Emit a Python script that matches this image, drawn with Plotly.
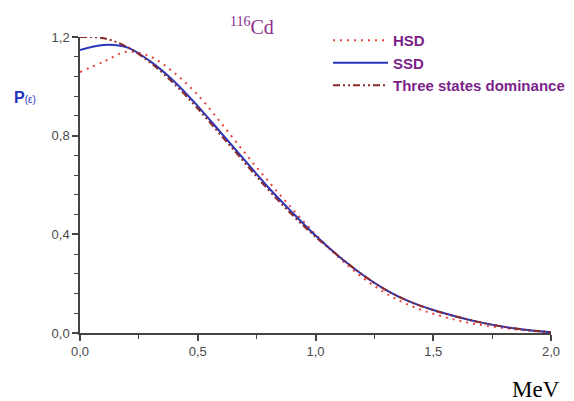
import plotly.graph_objects as go

# Energy grid (MeV)
energy = [0.0, 0.1, 0.2, 0.3, 0.4, 0.5, 0.6, 0.7, 0.8, 0.9, 1.0,
          1.1, 1.2, 1.3, 1.4, 1.5, 1.6, 1.7, 1.8, 1.9, 2.0]

hsd = [1.058, 1.10, 1.14, 1.12, 1.055, 0.965, 0.85, 0.73, 0.615, 0.505, 0.40,
       0.305, 0.225, 0.16, 0.112, 0.078, 0.052, 0.033, 0.02, 0.01, 0.003]
ssd = [1.147, 1.168, 1.158, 1.10, 1.02, 0.92, 0.81, 0.70, 0.59, 0.49, 0.395,
       0.31, 0.236, 0.174, 0.127, 0.093, 0.066, 0.043, 0.025, 0.012, 0.003]
three_states = [1.2, 1.195, 1.16, 1.095, 1.01, 0.91, 0.80, 0.69, 0.58, 0.48, 0.39,
                0.31, 0.236, 0.174, 0.127, 0.093, 0.066, 0.043, 0.025, 0.012, 0.003]

x_tick_vals = [0.0, 0.5, 1.0, 1.5, 2.0]
x_tick_text = ["0,0", "0,5", "1,0", "1,5", "2,0"]
y_tick_vals = [0.0, 0.4, 0.8, 1.2]
y_tick_text = ["0,0", "0,4", "0,8", "1,2"]

# page offset (default body margin) compensated
OFF = 8
W, H = 574 - OFF, 401 - OFF
L, R, T, B = 80 - OFF, 23, 37 - OFF, 68
pw, ph = W - L - R, H - T - B


def px(xp):
    return (xp - OFF - L) / pw


def py(yp):
    return (H - B - (yp - OFF)) / ph


fig = go.Figure()
fig.add_trace(go.Scatter(x=energy, y=hsd, mode="lines", name="HSD",
                         line=dict(color="#E8453C", width=2, dash="2px,5px", shape="spline"),
                         cliponaxis=False))
fig.add_trace(go.Scatter(x=energy, y=ssd, mode="lines", name="SSD",
                         line=dict(color="#2B35B8", width=2, shape="spline"),
                         cliponaxis=False))
fig.add_trace(go.Scatter(x=energy, y=three_states, mode="lines", name="Three states dominance",
                         line=dict(color="#8B2A2A", width=2, dash="7px,3px,2px,3px,2px,3px",
                                   shape="spline"),
                         cliponaxis=False))

axis_common = dict(showgrid=False, zeroline=False, showline=True, linecolor="#444444",
                   linewidth=1.5, ticks="outside", tickcolor="#444444", tickwidth=1.5,
                   ticklen=6, automargin=False,
                   tickfont=dict(family="Arial, Liberation Sans", size=13, color="#4a4a4a"))

fig.update_xaxes(range=[0, 2.0], tickvals=x_tick_vals, ticktext=x_tick_text, **axis_common,
                 minor=dict(ticks="outside", ticklen=4, tickcolor="#444444", tickwidth=1.2,
                            tick0=0, dtick=0.25))
fig.update_yaxes(range=[0, 1.2], tickvals=y_tick_vals, ticktext=y_tick_text, **axis_common,
                 minor=dict(ticks="outside", ticklen=4, tickcolor="#444444", tickwidth=1.2,
                            tick0=0, dtick=0.08))

fig.update_layout(
    width=W, height=H,
    margin=dict(l=L, r=R, t=T, b=B, autoexpand=False),
    paper_bgcolor="white", plot_bgcolor="white",
    showlegend=True,
    legend=dict(x=px(328), y=py(24), xanchor="left", yanchor="top",
                bgcolor="rgba(0,0,0,0)", itemwidth=55,
                font=dict(family="Liberation Sans, Arial", size=15, color="#7B1F8B",
                          weight="bold"),
                tracegroupgap=0),
    annotations=[
        dict(text="<sup>116</sup>Cd", x=px(252), y=py(26), xref="paper", yref="paper",
             xanchor="center", yanchor="middle", showarrow=False,
             font=dict(family="Liberation Serif, Times New Roman", size=20, color="#8B2D8B")),
        dict(text="<b>P</b><span style='font-size:10px'>(ε)</span>", x=px(25), y=py(98),
             xref="paper", yref="paper", xanchor="center", yanchor="middle", showarrow=False,
             font=dict(family="Liberation Sans, Arial", size=16, color="#2030C0")),
        dict(text="MeV", x=px(536), y=py(389), xref="paper", yref="paper",
             xanchor="center", yanchor="middle", showarrow=False,
             font=dict(family="Liberation Serif, Times New Roman", size=23, color="#000000")),
    ],
)

fig.write_html("out.html")
